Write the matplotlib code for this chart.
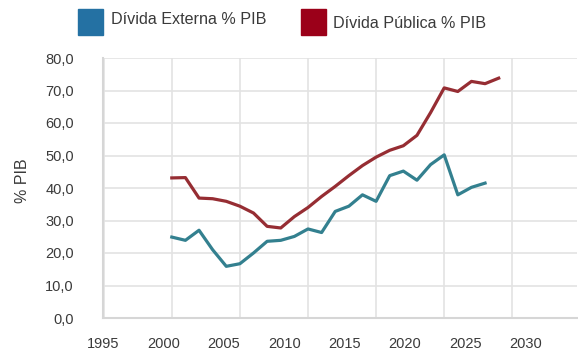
import numpy as np
import matplotlib
matplotlib.use("Agg")
import matplotlib.pyplot as plt
from matplotlib.patches import Rectangle

# ---- data ----
years_ext = list(range(2000, 2024))
divida_externa = [24.9, 23.9, 27.0, 21.0, 15.9, 16.7, 20.0, 23.6, 23.9, 25.1,
                  27.4, 26.3, 32.8, 34.4, 37.9, 35.9, 43.8, 45.2, 42.4, 47.2,
                  50.2, 37.9, 40.2, 41.5]
years_pub = list(range(2000, 2025))
divida_publica = [43.1, 43.2, 36.9, 36.7, 35.9, 34.4, 32.3, 28.2, 27.7, 31.2,
                  34.0, 37.4, 40.5, 43.8, 46.9, 49.5, 51.6, 53.0, 56.2, 63.2,
                  70.8, 69.7, 72.8, 72.1, 73.8]
x_tick_labels = ["1995", "2000", "2005", "2010", "2015", "2020", "2025", "2030"]
y_ticks = [0, 10, 20, 30, 40, 50, 60, 70, 80]
legend_labels = ["Dívida Externa % PIB", "Dívida Pública % PIB"]

# ---- style ----
line_blue = "#33808f"
line_red = "#962d33"
swatch_blue = "#2471a3"
swatch_red = "#9b0019"
grid_col = "#e3e3e3"
text_col = "#3a3a3a"
font_main = ["Liberation Sans", "DejaVu Sans"]

fig = plt.figure(figsize=(5.78, 3.53), dpi=100)
ax = fig.add_axes([103/578, 1-318/353, 474/578, 260/353])

ax.plot(years_ext, divida_externa, color=line_blue, lw=2.3, solid_joinstyle="round")
ax.plot(years_pub, divida_publica, color=line_red, lw=2.3, solid_joinstyle="round")

ax.set_xlim(1995, 2029.75)
ax.set_ylim(0, 80)

# vertical grid every 5 years (minor ticks), labels at reference positions (major)
ax.set_xticks(np.arange(1995, 2030, 5), minor=True)
label_pos = np.linspace(1994.95, 2026.0, len(x_tick_labels))
ax.set_xticks(label_pos)
ax.set_xticklabels(x_tick_labels, fontsize=10.5, color=text_col, family=font_main)
ax.tick_params(axis="x", which="both", length=0, pad=14)
ax.grid(True, axis="x", which="minor", color=grid_col, lw=1.2)

ax.set_yticks(y_ticks)
ax.set_yticklabels([f"{v:.1f}".replace(".", ",") for v in y_ticks],
                   fontsize=10.5, color=text_col, family=font_main)
ax.tick_params(axis="y", length=0, pad=21)
ax.grid(True, axis="y", which="major", color=grid_col, lw=1.2)
ax.set_axisbelow(True)

for s in ["top", "right"]:
    ax.spines[s].set_visible(False)
for s in ["left", "bottom"]:
    ax.spines[s].set_color("#d6d6d6")
    ax.spines[s].set_linewidth(1.5)

ax.set_ylabel("% PIB", fontsize=11.5, color=text_col, family=font_main)
ax.yaxis.set_label_coords(-0.153, 0.53)

# ---- legend (manual) ----
W, H = 578, 353
fig.patches.append(Rectangle((78/W, 1-35/H), 25/W, 26/H, transform=fig.transFigure,
                             color=swatch_blue, figure=fig))
fig.text(111/W, 1-20/H, legend_labels[0], fontsize=11.6, color=text_col,
         family=font_main, va="center", ha="left")
fig.patches.append(Rectangle((301/W, 1-35/H), 25/W, 26/H, transform=fig.transFigure,
                             color=swatch_red, figure=fig))
fig.text(333/W, 1-24/H, legend_labels[1], fontsize=11.6, color=text_col,
         family=font_main, va="center", ha="left")

fig.savefig("out.png", dpi=100)
